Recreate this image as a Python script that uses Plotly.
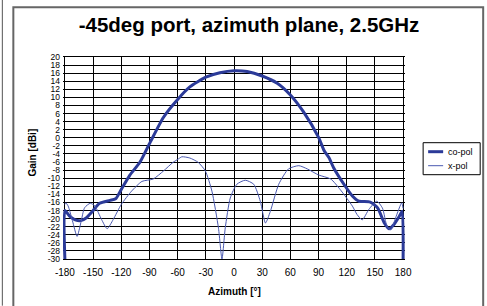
import plotly.graph_objects as go

# ---- data ----
az_co = [-180, -180, -175, -169, -163, -157, -151, -143, -132, -126, -120, -111, -100, -89, -75,
         -60, -47, -30, -15, 0, 14, 30, 46, 60, 74, 90, 96, 101, 106, 117, 126, 133, 145, 153,
         160, 165, 170, 176, 179, 180]
co_pol = [-30, -18, -19.4, -20.3, -20.5, -19.8, -18.3, -16.2, -15.5, -15.1, -12.8, -9.3, -6.0, -1.0, 5.1,
          9.5, 12.6, 15.0, 16.1, 16.6, 16.4, 15.3, 13.5, 10.6, 6.4, 0.1, -3.2, -4.9, -7.4, -11.5, -14.4,
          -15.7, -15.9, -17.4, -21.1, -22.5, -21.5, -19.4, -18.2, -30]

az_x = [-180, -179, -176.5, -172, -167, -163, -159, -153, -148, -141, -135, -128.5, -120, -109, -98,
        -86, -75, -65, -59, -55.5, -47, -38, -30.5, -23.5, -16.5, -12.8, -9.3, -4, 3, 12, 21, 28,
        33.5, 38.7, 47.6, 58, 69, 78, 90, 103, 113, 126, 131, 136.5, 143.6, 152, 158, 163, 167,
        172, 178.5, 180]
x_pol = [-16.5, -16.1, -16.9, -20.5, -24.4, -21.0, -17.3, -16.2, -16.9, -20.2, -22.5, -20.2, -16.5,
         -13.2, -10.8, -10.2, -8.2, -6.1, -5.2, -4.7, -5.0, -6.1, -8.2, -13.2, -22.4, -30.0, -22.3,
         -14.9, -11.5, -10.5, -11.5, -15.7, -21.1, -18.2, -11.5, -7.7, -6.9, -7.7, -9.2, -10.2,
         -12.8, -16.9, -19.0, -20.3, -17.7, -15.7, -17.4, -22.0, -22.8, -19.8, -16.1, -17.5]

series_names = ["co-pol", "x-pol"]
x_ticks = [-180, -150, -120, -90, -60, -30, 0, 30, 60, 90, 120, 150, 180]
y_ticks = list(range(-30, 21, 2))

title_text = "-45deg port, azimuth plane, 2.5GHz"
FONT = "Liberation Sans, Arial, sans-serif"
CO_COLOR = "#2B3A98"
X_COLOR = "#4A59B0"

# ---- geometry ----
W, H = 487, 306
px_per_deg = 338 / 360.0
x_lo, x_hi = -182, 182
left_px = 65 - 2 * px_per_deg
dom_w = (x_hi - x_lo) * px_per_deg
m_l = left_px
m_r = W - left_px - dom_w
m_t = 57.3
m_b = H - 259.3


def px_to_paper_x(px):
    return (px - left_px) / dom_w


def px_to_paper_y(py):
    return (259.3 - py) / (259.3 - 57.3)


fig = go.Figure()
fig.add_trace(go.Scatter(x=az_co, y=co_pol, mode="lines", name=series_names[0],
                         line=dict(color=CO_COLOR, width=3, shape="spline", smoothing=0.6)))
fig.add_trace(go.Scatter(x=az_x, y=x_pol, mode="lines", name=series_names[1],
                         line=dict(color=X_COLOR, width=1, shape="spline", smoothing=0.6)))

fig.update_layout(
    width=W, height=H,
    margin=dict(l=m_l, r=m_r, t=m_t, b=m_b, pad=0, autoexpand=False),
    paper_bgcolor="white", plot_bgcolor="white",
    font=dict(family=FONT, color="black"),
    title=dict(text="<b>" + title_text + "</b>", x=249 / W, xref="container", xanchor="center",
               y=1 - 25 / H, yref="container", yanchor="middle",
               font=dict(size=20.5, family=FONT, color="black")),
    showlegend=False,
)

fig.update_xaxes(range=[x_lo, x_hi], tickmode="array", tickvals=x_ticks,
                 ticktext=[str(v) for v in x_ticks], automargin=False,
                 showgrid=True, gridcolor="black", gridwidth=1, zeroline=False,
                 showline=True, linecolor="black", linewidth=1, mirror=True,
                 ticks="", tickfont=dict(size=10, family=FONT), ticklabelstandoff=4)
fig.update_yaxes(range=[-30, 20], tickmode="array", tickvals=y_ticks,
                 ticktext=[str(v) for v in y_ticks], automargin=False,
                 showgrid=True, gridcolor="black", gridwidth=1, zeroline=False,
                 showline=False, ticks="", tickfont=dict(size=8.5, family=FONT),
                 ticklabelstandoff=2)

# axis titles
fig.add_annotation(text="<b>Azimuth [°]</b>", xref="paper", yref="paper",
                   x=px_to_paper_x(234), y=px_to_paper_y(292), showarrow=False,
                   xanchor="center", yanchor="middle", font=dict(size=10, family=FONT))
fig.add_annotation(text="<b>Gain [dBi]</b>", xref="paper", yref="paper",
                   x=px_to_paper_x(33), y=px_to_paper_y(153), showarrow=False, textangle=-90,
                   xanchor="center", yanchor="middle", font=dict(size=10, family=FONT))

# legend (drawn manually to match the compact box)
lx0, lx1, ly0, ly1 = 423, 480, 143, 175
fig.add_shape(type="rect", xref="paper", yref="paper",
              x0=px_to_paper_x(lx0), x1=px_to_paper_x(lx1), y0=px_to_paper_y(ly0), y1=px_to_paper_y(ly1),
              line=dict(color="black", width=1), fillcolor="white")
for i, (name, col, wd) in enumerate([(series_names[0], CO_COLOR, 3), (series_names[1], X_COLOR, 1)]):
    yy = 152 + i * 14
    fig.add_shape(type="line", xref="paper", yref="paper",
                  x0=px_to_paper_x(428), x1=px_to_paper_x(443), y0=px_to_paper_y(yy), y1=px_to_paper_y(yy),
                  line=dict(color=col, width=wd))
    fig.add_annotation(text=name, xref="paper", yref="paper",
                       x=px_to_paper_x(446), y=px_to_paper_y(yy), showarrow=False,
                       xanchor="left", yanchor="middle", font=dict(size=9, family=FONT))

# chart frames
fig.add_shape(type="line", xref="paper", yref="paper",
              x0=px_to_paper_x(2.5), x1=px_to_paper_x(2.5), y0=px_to_paper_y(0), y1=px_to_paper_y(306),
              line=dict(color="#555555", width=1))
fig.add_shape(type="rect", xref="paper", yref="paper",
              x0=px_to_paper_x(13.5), x1=px_to_paper_x(483), y0=px_to_paper_y(7.5), y1=px_to_paper_y(320),
              line=dict(color="#666666", width=2))

fig.write_html("out.html", config={"displayModeBar": False},
               post_script="document.body.style.margin='0';")
